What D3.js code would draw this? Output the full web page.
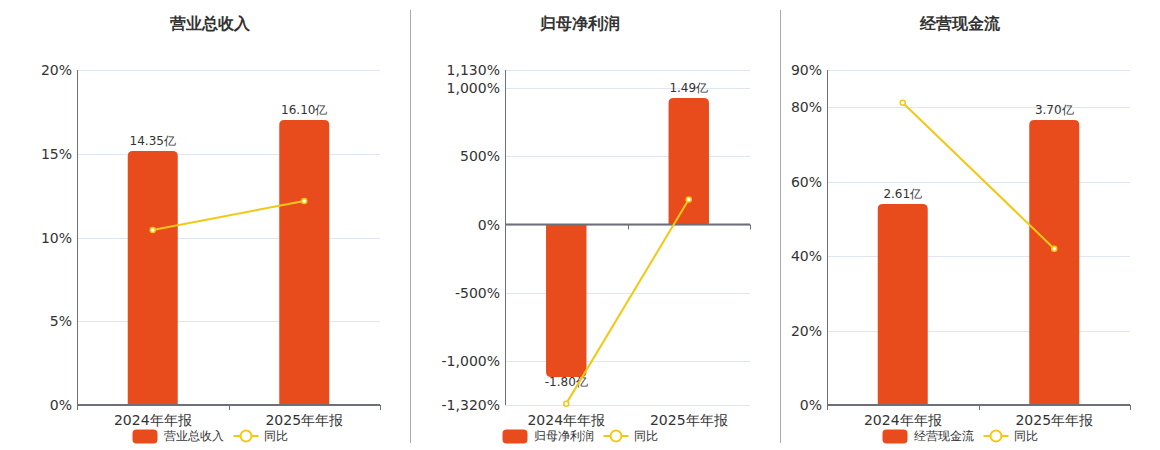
<!DOCTYPE html>
<html><head><meta charset="utf-8">
<script src="https://cdn.jsdelivr.net/npm/d3@7/dist/d3.min.js"></script>
<style>body{margin:0;background:#fff;}svg{display:block;font-family:"DejaVu Sans",sans-serif;}</style>
</head><body>
<svg id="c" width="1160" height="450"></svg>
<script>
const categories = ["2024年年报", "2025年年报"];
const titles = ["营业总收入", "归母净利润", "经营现金流"];
const revenue = [14.35, 16.10];
const revenueYoY = [10.45, 12.18];
const profit = [-1.80, 1.49];
const profitYoY = [-1310, 182.8];
const cash = [2.61, 3.70];
const cashYoY = [81.2, 42.0];
const ticks1 = [0, 5, 10, 15, 20];
const ticks2 = [-1320, -1000, -500, 0, 500, 1000, 1130];
const ticks3 = [0, 20, 40, 60, 80, 90];
const barDomain1 = [0, 18.93];
const barDomain2 = [-2.13, 1.82];
const barDomain3 = [0, 4.35];
const legendLine = "同比";

const panels = [
  {title: titles[0], bars: revenue, yoy: revenueYoY, ticks: ticks1, barDomain: barDomain1, left: 77, right: 380, cx: 210},
  {title: titles[1], bars: profit, yoy: profitYoY, ticks: ticks2, barDomain: barDomain2, left: 505, right: 750, cx: 580},
  {title: titles[2], bars: cash, yoy: cashYoY, ticks: ticks3, barDomain: barDomain3, left: 827, right: 1130, cx: 960}
];

const svg = d3.select("#c");
const plotTop = 70, plotBottom = 405;
const barColor = "#E84C1D", lineColor = "#F3C814", axisColor = "#6E7079", gridColor = "#E0E6F1", textColor = "#333";

[410.5, 780.5].forEach(x => svg.append("line").attr("x1", x).attr("x2", x).attr("y1", 10).attr("y2", 443)
  .attr("stroke", "#aaa").attr("stroke-width", 1));

function barPath(x, w, y0, y1, r) {
  const up = y1 < y0;
  const h = Math.abs(y1 - y0);
  r = Math.min(r, h, w / 2);
  if (up) {
    return `M${x},${y0}V${y1 + r}Q${x},${y1} ${x + r},${y1}H${x + w - r}Q${x + w},${y1} ${x + w},${y1 + r}V${y0}Z`;
  } else {
    return `M${x},${y0}V${y1 - r}Q${x},${y1} ${x + r},${y1}H${x + w - r}Q${x + w},${y1} ${x + w},${y1 - r}V${y0}Z`;
  }
}

const locale = d3.formatLocale({decimal: ".", thousands: ",", grouping: [3], currency: ["", ""], minus: "-"});
const fmt = locale.format(",");

panels.forEach(p => {
  const g = svg.append("g");
  const tmin = d3.min(p.ticks), tmax = d3.max(p.ticks);
  const y = d3.scaleLinear().domain([tmin, tmax]).range([plotBottom, plotTop]);
  const yb = d3.scaleLinear().domain(p.barDomain).range([plotBottom, plotTop]);
  const x = d3.scaleBand().domain(categories).range([p.left, p.right]);
  const bw = x.bandwidth() * 0.33;

  g.append("text").attr("x", p.cx).attr("y", 29).attr("text-anchor", "middle")
    .attr("font-size", 16).attr("font-weight", "bold").attr("fill", textColor).text(p.title);

  g.selectAll(".grid").data(p.ticks).enter().append("line")
    .attr("x1", p.left).attr("x2", p.right).attr("y1", d => Math.round(y(d)) + 0.5).attr("y2", d => Math.round(y(d)) + 0.5)
    .attr("stroke", gridColor).attr("stroke-width", 1);

  g.selectAll(".yl").data(p.ticks).enter().append("text")
    .attr("x", p.left - 5).attr("y", d => y(d)).attr("dy", "0.36em").attr("text-anchor", "end")
    .attr("font-size", 14).attr("fill", textColor).text(d => fmt(d) + "%");

  g.append("line").attr("x1", p.left + 0.5).attr("x2", p.left + 0.5).attr("y1", plotTop).attr("y2", plotBottom)
    .attr("stroke", axisColor).attr("stroke-width", 1);

  const zb = yb(0);
  g.selectAll(".bar").data(p.bars).enter().append("path")
    .attr("d", (d, i) => barPath(x(categories[i]) + (x.bandwidth() - bw) / 2, bw, zb, yb(d), 5))
    .attr("fill", barColor);

  g.selectAll(".bl").data(p.bars).enter().append("text")
    .attr("x", (d, i) => x(categories[i]) + x.bandwidth() / 2)
    .attr("y", d => d >= 0 ? yb(d) - 6 : yb(d) + 8.5)
    .attr("text-anchor", "middle").attr("font-size", 12).attr("fill", textColor)
    .text(d => d.toFixed(2) + "亿");

  const zy = y(0);
  g.append("line").attr("x1", p.left).attr("x2", p.right).attr("y1", zy).attr("y2", zy)
    .attr("stroke", axisColor).attr("stroke-width", 2);
  const bounds = [p.left, ...categories.map(c => x(c) + x.bandwidth())];
  g.selectAll(".xt").data(bounds).enter().append("line")
    .attr("x1", d => Math.round(d) + 0.5).attr("x2", d => Math.round(d) + 0.5).attr("y1", zy).attr("y2", zy + 5)
    .attr("stroke", axisColor).attr("stroke-width", 1);

  g.selectAll(".xl").data(categories).enter().append("text")
    .attr("x", d => x(d) + x.bandwidth() / 2).attr("y", 425).attr("text-anchor", "middle")
    .attr("font-size", 14).attr("fill", textColor).text(d => d);

  const pts = p.yoy.map((v, i) => [x(categories[i]) + x.bandwidth() / 2, y(v)]);
  g.append("path").attr("d", d3.line()(pts)).attr("fill", "none").attr("stroke", lineColor).attr("stroke-width", 2);
  g.selectAll(".pt").data(pts).enter().append("circle")
    .attr("cx", d => d[0]).attr("cy", d => d[1]).attr("r", 2.5)
    .attr("fill", "#fff").attr("stroke", lineColor).attr("stroke-width", 1.5);

  const nameW = p.title.length * 12;
  const total = 25 + 6 + nameW + 10 + 25 + 5 + 24;
  let lx = p.cx - total / 2;
  const ly = 436;
  g.append("rect").attr("x", lx).attr("y", ly - 6.5).attr("width", 25).attr("height", 14).attr("rx", 4)
    .attr("fill", barColor);
  g.append("text").attr("x", lx + 31).attr("y", ly).attr("dy", "0.36em").attr("font-size", 12).attr("fill", textColor).text(p.title);
  lx += 31 + nameW + 10;
  g.append("line").attr("x1", lx).attr("x2", lx + 25).attr("y1", ly).attr("y2", ly).attr("stroke", lineColor).attr("stroke-width", 2);
  g.append("circle").attr("cx", lx + 12.5).attr("cy", ly).attr("r", 5.5).attr("fill", "#fff").attr("stroke", lineColor).attr("stroke-width", 2);
  g.append("text").attr("x", lx + 30).attr("y", ly).attr("dy", "0.36em").attr("font-size", 12).attr("fill", textColor).text(legendLine);
});
</script>
</body></html>
